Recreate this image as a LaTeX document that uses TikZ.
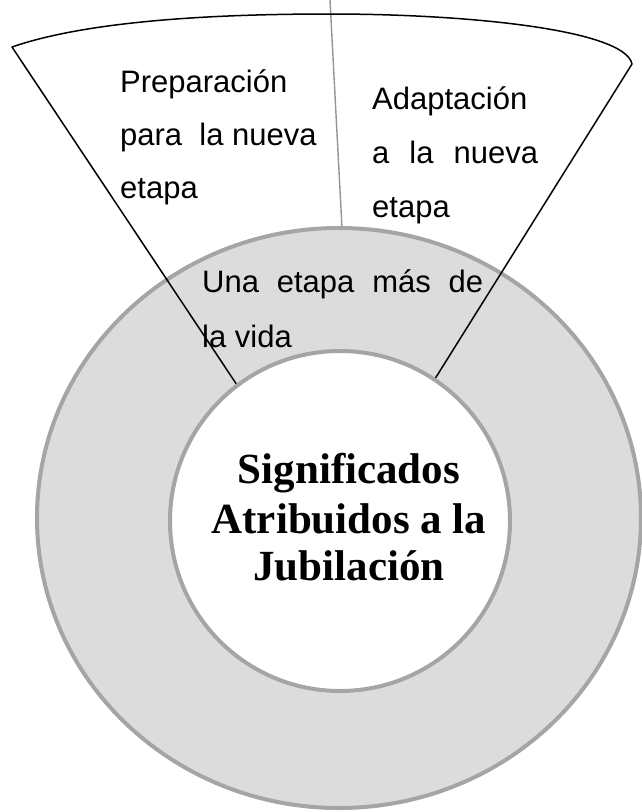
\documentclass[tikz,border=0pt]{standalone}
\usepackage{fontspec}
\setmainfont{Liberation Serif}
\newfontfamily\arialfont{Liberation Sans}
\definecolor{ringgray}{HTML}{DCDCDC}
\definecolor{edgegray}{HTML}{A5A5A5}
\tikzset{
  ring/.style={draw=edgegray, line width=4pt},
  fanline/.style={line width=1.5pt, line join=round},
  divider/.style={draw=edgegray!90!black, line width=1.4pt},
  ringtext/.style={inner sep=0pt, anchor=base west, font=\arialfont\fontsize{31}{37}\selectfont},
  coretext/.style={inner sep=0pt, anchor=base, font=\bfseries\fontsize{43}{48}\selectfont}
}
\begin{document}
\begin{tikzpicture}[x=1pt, y=-1pt]
  \useasboundingbox (0,0) rectangle (641,812);
  % divider between the two sectors
  \draw[divider] (330,0) -- (342,228);
  % outer ring
  \filldraw[ring, fill=ringgray] (339,518) ellipse [x radius=302, y radius=290];
  % fan
  \draw[fanline] (237,385) -- (12,47) .. controls (90,20) and (220,14) .. (330,14)
    .. controls (470,14) and (625,30) .. (632,64) -- (433,382);
  % inner circle
  \filldraw[ring, fill=white] (340,521) circle (170);
  % left sector
  \node[ringtext] (prep1) at (120,92) {Preparación};
  \node[ringtext] (prep2) at (120,145) {para\ \ la nueva};
  \node[ringtext] (prep3) at (120,198) {etapa};
  % right sector
  \node[ringtext] (adap1) at (372,109) {Adaptación};
  \node[ringtext] (adap2) at (372,163) {\makebox[166pt][s]{a la nueva}};
  \node[ringtext] (adap3) at (372,217) {etapa};
  % ring
  \node[ringtext] (vida1) at (202,292) {\makebox[281pt][s]{Una etapa más de}};
  \node[ringtext] (vida2) at (202,347) {la vida};
  % centre
  \node[coretext] (core1) at (349,483) {Significados};
  \node[coretext] (core2) at (349,533) {Atribuidos a la};
  \node[coretext] (core3) at (349,580) {Jubilación};
\end{tikzpicture}
\end{document}
